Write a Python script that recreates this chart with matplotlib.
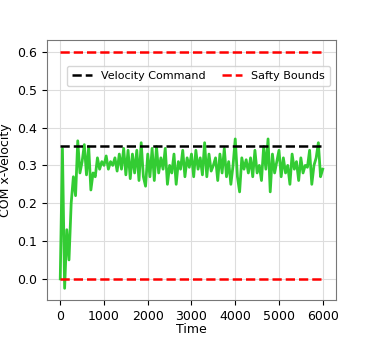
import numpy as np
import matplotlib.pyplot as plt

vel = [0.0, 0.345, -0.025, 0.13, 0.05, 0.2, 0.27, 0.22, 0.365, 0.28,
       0.31, 0.355, 0.275, 0.35, 0.235, 0.28, 0.27, 0.32, 0.29, 0.31,
       0.30, 0.325, 0.29, 0.31, 0.30, 0.32, 0.285, 0.33, 0.29, 0.345,
       0.275, 0.34, 0.265, 0.33, 0.28, 0.34, 0.26, 0.36, 0.27, 0.245,
       0.33, 0.27, 0.345, 0.26, 0.35, 0.28, 0.32, 0.29, 0.345, 0.25,
       0.30, 0.28, 0.33, 0.25, 0.31, 0.29, 0.34, 0.27, 0.32, 0.295,
       0.33, 0.27, 0.34, 0.29, 0.32, 0.275, 0.36, 0.27, 0.33, 0.285,
       0.30, 0.32, 0.26, 0.33, 0.28, 0.345, 0.27, 0.31, 0.25, 0.30,
       0.37, 0.27, 0.23, 0.32, 0.29, 0.315, 0.28, 0.32, 0.27, 0.34,
       0.28, 0.30, 0.26, 0.35, 0.29, 0.37, 0.23, 0.33, 0.28, 0.31,
       0.34, 0.27, 0.32, 0.28, 0.30, 0.25, 0.33, 0.29, 0.31, 0.26,
       0.32, 0.28, 0.30, 0.295, 0.34, 0.25, 0.30, 0.32, 0.36, 0.27,
       0.29]
time = np.arange(0, 6001, 50)

cmd_vel = 0.35
bounds = [0.0, 0.6]

plt.rcParams['font.size'] = 9
fig = plt.figure(figsize=(3.74, 3.43), dpi=100)
ax = fig.add_axes([0.126, 0.125, 0.772, 0.758])

ax.plot(time, vel, color='#33cc33', linewidth=2)
ax.plot([time[0], time[-1]], [cmd_vel, cmd_vel], 'k--', linewidth=1.8, label='Velocity Command')
ax.plot([time[0], time[-1]], [bounds[1], bounds[1]], 'r--', linewidth=1.8, label='Safty Bounds')
ax.plot([time[0], time[-1]], [bounds[0], bounds[0]], 'r--', linewidth=1.8)

ax.set_xlabel('Time', labelpad=0)
ax.set_ylabel('COM x-Velocity')
ax.set_xticks(range(0, 6001, 1000))
ax.grid(True, color='#dddddd')
for s in ax.spines.values():
    s.set_color('#777777')
ax.legend(loc='upper right', bbox_to_anchor=(0.98, 0.9), ncol=2, fontsize=8,
          borderaxespad=0, handlelength=1.8, columnspacing=1.5, borderpad=0.45)

fig.savefig('out.png', dpi=100)
